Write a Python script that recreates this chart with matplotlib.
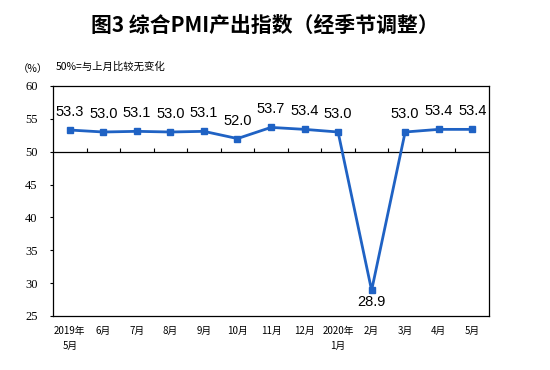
import matplotlib
matplotlib.use("Agg")
import matplotlib.pyplot as plt
import numpy as np

months = ["2019年\n5月", "6月", "7月", "8月", "9月", "10月", "11月", "12月",
          "2020年\n1月", "2月", "3月", "4月", "5月"]
pmi = [53.3, 53.0, 53.1, 53.0, 53.1, 52.0, 53.7, 53.4, 53.0, 28.9, 53.0, 53.4, 53.4]
yticks = [25, 30, 35, 40, 45, 50, 55, 60]

cjk = ["Noto Sans CJK SC", "DejaVu Sans"]
plt.rcParams['font.family'] = cjk

fig = plt.figure(figsize=(5.5, 3.7), dpi=100)
ax = fig.add_axes([53/550, 1-316/370, 436/550, 230/370])

x = np.arange(len(pmi))
color = "#1F62C4"
ax.plot(x, pmi, color=color, lw=2, marker="s", ms=4.5, zorder=3)

for xi, v in zip(x, pmi):
    if v < 40:
        ax.annotate(f"{v:.1f}", (xi, v), xytext=(0, -3), textcoords="offset points",
                    ha="center", va="top", fontsize=10.5, family="Liberation Sans")
    else:
        ax.annotate(f"{v:.1f}", (xi, v), xytext=(0, 13), textcoords="offset points",
                    ha="center", va="center", fontsize=10.5, family="Liberation Sans")

ax.set_xlim(-0.5, len(pmi) - 0.5)
ax.set_ylim(25, 60)
ax.set_yticks(yticks)
ax.set_yticklabels([str(t) for t in yticks], family="Liberation Serif", fontsize=9)
ax.tick_params(axis="y", length=2, direction="out", width=0.8, pad=9)

ax.set_xticks(x)
ax.set_xticklabels(months, fontsize=7, linespacing=1.6)
ax.tick_params(axis="x", length=0, pad=7)
for lbl in ax.get_xticklabels():
    lbl.set_verticalalignment("top")

# 50 reference line with boundary ticks
ax.axhline(50, color="black", lw=0.9, zorder=2)
ax.vlines(np.arange(0.5, len(pmi) - 1), 50, 50.55, color="black", lw=0.8, zorder=2)

for s in ax.spines.values():
    s.set_linewidth(0.9)
    s.set_color("black")

fig.text(265/550, 1-25/370, "图3 综合PMI产出指数（经季节调整）", ha="center", va="center",
         fontsize=15, fontweight="bold", family=cjk)
fig.text(33/550, 1-69/370, "（%）", ha="center", va="center", fontsize=7.5, family=cjk)
fig.text(56/550, 1-67/370, "50%=与上月比较无变化", ha="left", va="center", fontsize=7.5, family=cjk)

fig.savefig("out.png", dpi=100)
